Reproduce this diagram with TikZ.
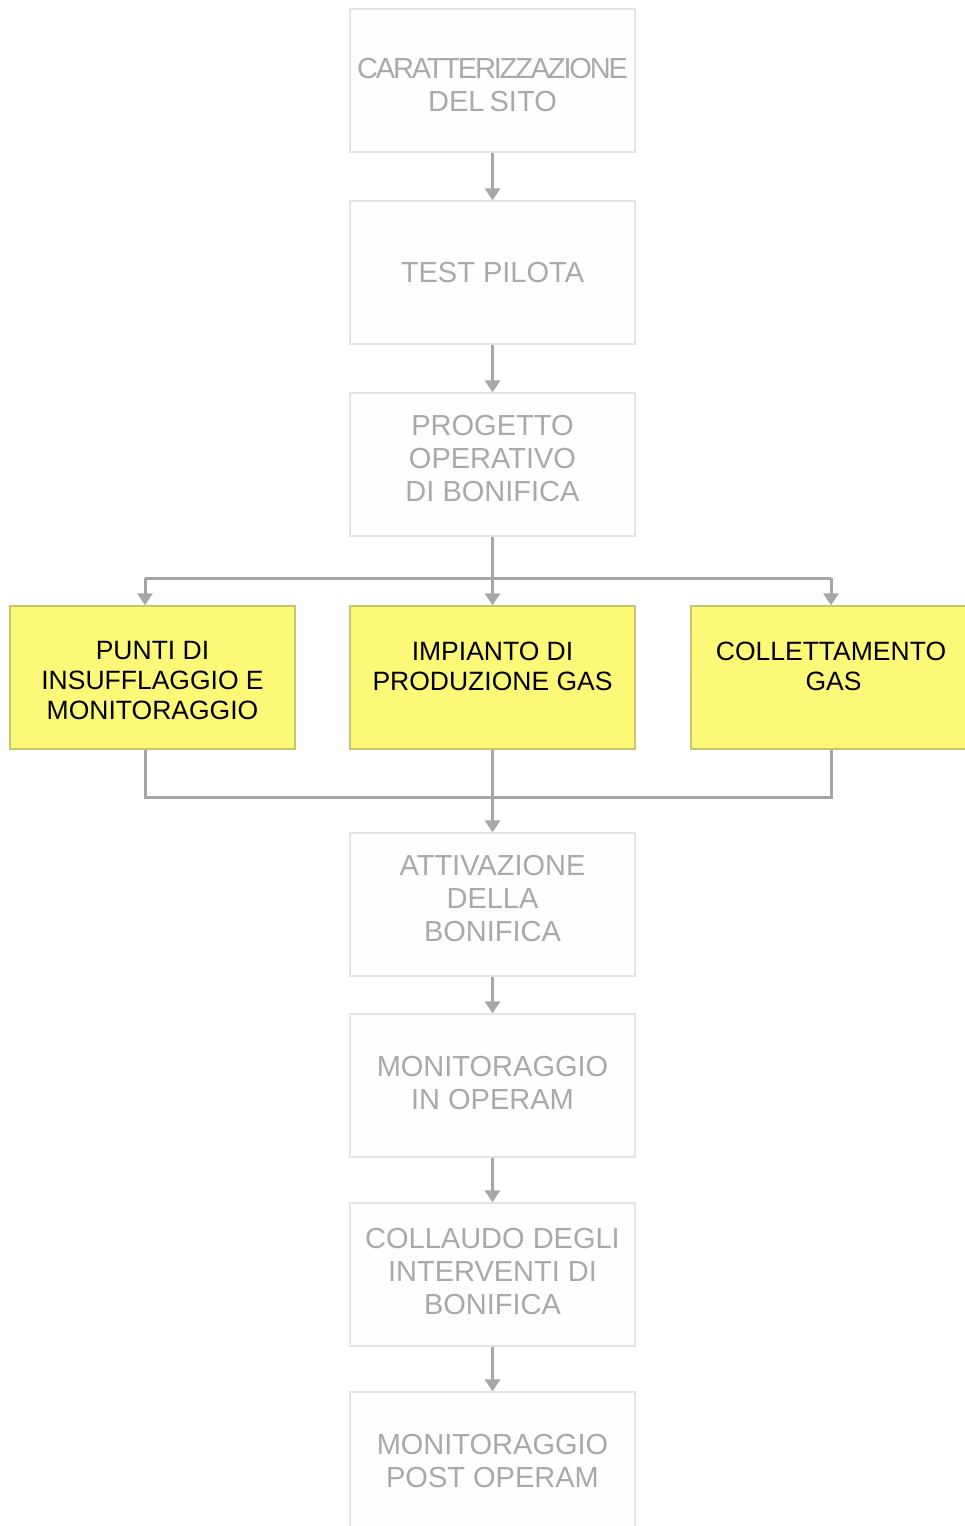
\documentclass[tikz,border=0pt]{standalone}
\usepackage{fontspec}
\setmainfont{Liberation Sans}
\usetikzlibrary{arrows.meta}

\definecolor{boxline}{HTML}{E4E4E4}
\definecolor{boxfill}{HTML}{FEFEFE}
\definecolor{greytext}{HTML}{A9A9A9}
\definecolor{arrowgrey}{HTML}{A6A6A6}
\definecolor{yfill}{HTML}{FBF977}
\definecolor{yborder}{HTML}{C9C56E}

\tikzset{
  greybox/.style={draw=boxline, fill=boxfill, line width=1.5pt,
    minimum width=285pt, minimum height=143pt, inner sep=0pt,
    align=center, text=greytext, font=\fontsize{29}{33}\selectfont},
  yellowbox/.style={draw=yborder, fill=yfill, line width=1.5pt,
    minimum width=285pt, minimum height=143pt, inner sep=0pt,
    align=center, text=black, font=\fontsize{26.5}{30}\selectfont},
  raise/.style={text depth=#1},
  link/.style={draw=arrowgrey, line width=3pt},
  flow/.style={link, -{Triangle[width=15pt,length=12pt]}},
}

\begin{document}
\begin{tikzpicture}[x=1pt, y=-1pt]
  \useasboundingbox[fill=white] (0,0) rectangle (964,1526);

  % main sequence
  \node[greybox, text height=62pt] (b1) at (492.5,80.5) {\addfontfeature{LetterSpace=-7.5}CARATTERIZZAZIONE\\DEL\hspace{-3pt} SITO};
  \node[greybox] (b2) at (492.5,272.5) {TEST PILOTA};
  \node[greybox, raise=12pt] (b3) at (492.5,464.5) {PROGETTO\\OPERATIVO\\DI BONIFICA};

  % parallel works
  \node[yellowbox, text height=85pt] (y1) at (152.5,677.5) {PUNTI DI\\INSUFFLAGGIO E\\MONITORAGGIO};
  \node[yellowbox, text height=85pt] (y2) at (492.5,677.5) {IMPIANTO DI\\PRODUZIONE GAS\\~};
  \node[yellowbox, text height=85pt] (y3) at (833.5,677.5) {\hspace*{-5pt}COLLETTAMENTO\\GAS\\~};

  \node[greybox, raise=12pt] (b4) at (492.5,904.5) {ATTIVAZIONE\\DELLA\\BONIFICA};
  \node[greybox, raise=6pt] (b5) at (492.5,1085.5) {MONITORAGGIO\\IN OPERAM};
  \node[greybox, raise=6pt] (b6) at (492.5,1274.5) {COLLAUDO DEGLI\\INTERVENTI DI\\BONIFICA};
  \node[greybox, raise=6pt] (b7) at (492.5,1463.5) {MONITORAGGIO\\POST OPERAM};

  % straight links
  \draw[flow] (b1.south) -- (b2.north);
  \draw[flow] (b2.south) -- (b3.north);
  \draw[flow] (b4.south) -- (b5.north);
  \draw[flow] (b5.south) -- (b6.north);
  \draw[flow] (b6.south) -- (b7.north);

  % split
  \coordinate (sm) at (492.5,578);
  \coordinate (sl) at (145,578);
  \coordinate (sr) at (831,578);
  \draw[link] (b3.south) -- (sm);
  \draw[link] (sl) -- (sr);
  \draw[flow] (sl) -- (sl |- y1.north);
  \draw[flow] (sm) -- (y2.north);
  \draw[flow] (sr) -- (sr |- y3.north);

  % merge
  \coordinate (jm) at (492.5,797);
  \coordinate (jl) at (145,797);
  \coordinate (jr) at (831,797);
  \draw[link] (jl |- y1.south) -- (jl) -- (jr) -- (jr |- y3.south);
  \draw[link] (y2.south) -- (jm);
  \draw[flow] (jm) -- (b4.north);
\end{tikzpicture}
\end{document}
